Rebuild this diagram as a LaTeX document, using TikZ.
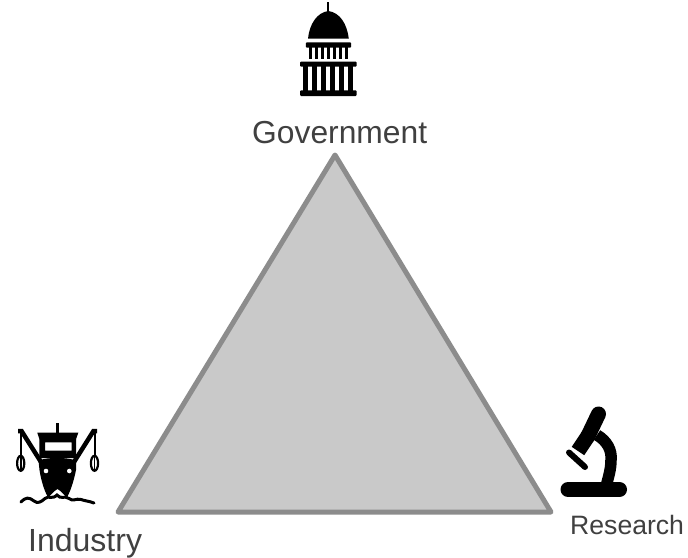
\documentclass[tikz,border=0pt]{standalone}
\usepackage{fontspec}
\setmainfont{Liberation Sans}
\definecolor{txt}{HTML}{404040}
\tikzset{
  lbl/.style={text=txt,inner sep=0pt,anchor=base west},
  tri/.style={fill=black!21,draw=black!45,line width=5pt,line join=round},
  ink/.style={fill=black,draw=none},
  inkline/.style={draw=black,line cap=butt}
}
\begin{document}
\begin{tikzpicture}[x=1pt,y=-1pt]
\useasboundingbox (0,0) rectangle (688,557);
\fill[white] (0,0) rectangle (688,557);
% triangle
\draw[tri] (335,155) -- (118,512) -- (551,512) -- cycle;
% capitol
\draw[inkline,line width=1.8pt] (328.3,2) -- (328.3,12);
\fill[ink] (308,38.6) .. controls (309.5,24) and (317,12.5) .. (328.3,11) .. controls (340,12.5) and (347,24) .. (348.8,38.6) -- cycle;
\fill[ink,rounded corners=1pt] (305.8,42.3) rectangle (351.2,47.7);
\foreach \i in {0,...,6}{\fill[ink] ({309.3+\i*6},47) rectangle ({312.3+\i*6},59.3);}
\fill[ink,rounded corners=1pt] (300,61.7) rectangle (356.7,66.7);
\foreach \i in {0,...,5}{\fill[ink] ({303.3+\i*9},66) rectangle ({307.8+\i*9},91);}
\fill[ink,rounded corners=1pt] (300,90.3) rectangle (356.7,96);
% ship
\draw[inkline,line width=3pt] (57.3,423) -- (57.3,436);
\fill[ink] (37.3,432.7) -- (78.3,432.7) -- (76,439.3) -- (39.5,439.3) -- cycle;
\fill[ink,even odd rule] (39.3,439) rectangle (76,458) (45,442.3) rectangle (71.7,450.7);
\fill[ink] (38.5,460.5) .. controls (48,457) and (66,457) .. (76,460.5) -- (76,470) .. controls (74,480) and (71,490) .. (67,497.5) .. controls (64,495) and (60,490) .. (57.5,489) .. controls (55,490) and (51,495) .. (48,497.5) .. controls (44,490) and (41,480) .. (39.5,470) -- cycle;
\fill[white] (46,471) circle (2.3);
\fill[white] (69.3,471) circle (2.3);
\draw[inkline,line width=4.5pt] (41,462) -- (21.5,431) -- (18,431);
\draw[inkline,line width=4.5pt] (74,462) -- (93.5,431) -- (97,431);
\draw[inkline,line width=2pt] (20.7,431) -- (20.7,456);
\draw[inkline,line width=2pt] (94.5,431) -- (94.5,456);
\draw[black,fill=white,line width=2.2pt] (20.7,463.3) ellipse (3.6 and 7.5);
\draw[black,fill=white,line width=2.2pt] (94.5,463.3) ellipse (3.6 and 7.5);
\draw[inkline,line width=1.6pt] (20.7,456) -- (20.7,471);
\draw[inkline,line width=1.6pt] (94.5,456) -- (94.5,471);
\draw[inkline,line width=3pt,line cap=round] (21,502) .. controls (26,497) and (29,497) .. (34,501) .. controls (38,504) and (41,502) .. (45,498.5) .. controls (49,495) and (52,500) .. (57,495) .. controls (61,500) and (64,495) .. (69,498.5) .. controls (73,502) and (76,498) .. (81,499.5) .. controls (85,501) and (89,501) .. (94,503);
% microscope
\draw[inkline,line width=15pt,line cap=round] (598.5,414) -- (588,436);
\draw[inkline,line width=15pt] (588,436) -- (578,451);
\draw[inkline,line width=6pt,line cap=round] (569,452.5) -- (585,467);
\draw[inkline,line width=11.5pt] (597,435) .. controls (607,441) and (612,450) .. (611,460) .. controls (611,470) and (608,478) .. (606,487);
\draw[inkline,line width=15pt,line cap=round] (568,489.5) -- (619.5,489.5);
% labels
\node[lbl,font=\fontsize{31.8}{34}\selectfont] (gov) at (252,143) {Government};
\node[lbl,font=\fontsize{32}{34}\selectfont] (ind) at (28,551) {Industry};
\node[lbl,font=\fontsize{26.6}{29}\selectfont] (res) at (570,534) {Research};
\end{tikzpicture}
\end{document}
